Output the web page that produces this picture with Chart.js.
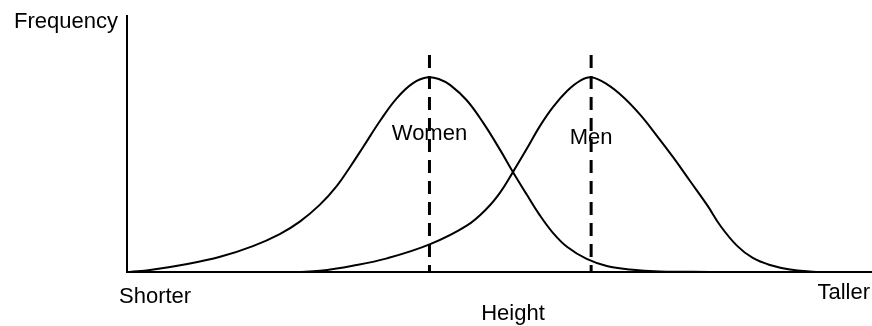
<!DOCTYPE html>
<html>
<head>
<meta charset="utf-8">
<script src="https://cdn.jsdelivr.net/npm/chart.js@4/dist/chart.umd.min.js"></script>
<style>
  html, body { margin: 0; padding: 0; background: #fff; }
  #wrap { width: 872px; height: 326px; }
</style>
</head>
<body>
<div id="wrap"><canvas id="height-chart"></canvas></div>
<script>
// height (arbitrary units, shorter -> taller) and frequency
const womenHeight = [0.4, 3.1, 8.1, 12.5, 16.9, 20.5, 23.2, 25.9, 28.2, 29.9, 31.7, 34.0, 36.2, 38.4, 40.4, 42.0, 43.4, 45.6, 47.8, 50.1, 51.8, 53.7, 55.4, 57.2, 59.1, 61.7, 64.4, 67.5, 71.5, 78.3];
const womenFreq   = [0, 1.0, 4.1, 7.8, 13.3, 19.5, 25.9, 34.6, 44.4, 53.7, 64.2, 77.8, 89.2, 97.0, 100, 98.9, 96.0, 88.2, 76.7, 62.6, 51.4, 39.5, 29.2, 20.0, 12.8, 6.7, 3.1, 1.3, 0.3, 0];

const menHeight = [22.8, 25.9, 30.3, 34.9, 40.7, 45.6, 48.3, 50.1, 51.8, 53.7, 55.4, 57.2, 59.1, 60.8, 62.3, 64.4, 66.6, 68.9, 71.1, 73.3, 75.6, 77.9, 79.6, 81.9, 84.0, 86.3, 89.0, 92.6];
const menFreq   = [0, 0.6, 3.2, 7.0, 14.3, 23.8, 32.6, 40.9, 51.3, 63.5, 74.8, 84.8, 93.1, 98.2, 100, 96.5, 89.9, 80.7, 70.1, 59.0, 46.6, 34.2, 24.0, 13.4, 7.2, 3.6, 1.3, 0];

const womenMean = 40.6;
const menMean = 62.3;
const meanTop = 111.5;

const xLabels = ["Shorter", "Taller"];
const xTitle = "Height";
const yTitle = "Frequency";

const toPoints = (xs, ys) => xs.map((x, i) => ({ x: x, y: ys[i] }));

const FONT = '22px "Liberation Sans", Arial, sans-serif';

const textPlugin = {
  id: 'texts',
  afterDraw(chart) {
    const { ctx, chartArea, scales } = chart;
    ctx.save();
    // axes
    ctx.strokeStyle = '#000';
    ctx.lineWidth = 2;
    ctx.beginPath();
    ctx.moveTo(chartArea.left, chartArea.top);
    ctx.lineTo(chartArea.left, chartArea.bottom);
    ctx.lineTo(chartArea.right, chartArea.bottom);
    ctx.stroke();

    ctx.fillStyle = '#000';
    ctx.font = FONT;
    ctx.textBaseline = 'middle';
    ctx.textAlign = 'right';
    ctx.fillText(yTitle, chartArea.left - 9, 22);
    ctx.textAlign = 'left';
    ctx.fillText(xLabels[0], 119, 297);
    ctx.textAlign = 'right';
    ctx.fillText(xLabels[1], 870, 293);
    ctx.textAlign = 'center';
    ctx.fillText(xTitle, 513, 314);

    ctx.fillText("Women", scales.x.getPixelForValue(womenMean), scales.y.getPixelForValue(71));
    ctx.fillText("Men", scales.x.getPixelForValue(menMean), scales.y.getPixelForValue(69));
    ctx.restore();
  }
};

const curve = (label, data) => ({
  label: label,
  data: data,
  borderColor: '#000',
  borderWidth: 2,
  pointRadius: 0,
  fill: false,
  tension: 0.4,
  clip: false,
});

const meanLine = (label, x) => ({
  label: label,
  data: [{ x: x, y: meanTop }, { x: x, y: 0 }],
  borderColor: '#000',
  borderWidth: 3,
  borderDash: [13, 8],
  pointRadius: 0,
  fill: false,
  clip: false,
});

new Chart(document.getElementById('height-chart'), {
  type: 'line',
  data: {
    datasets: [
      curve('Women', toPoints(womenHeight, womenFreq)),
      curve('Men', toPoints(menHeight, menFreq)),
      meanLine('Women mean', womenMean),
      meanLine('Men mean', menMean),
    ],
  },
  options: {
    responsive: true,
    maintainAspectRatio: false,
    animation: false,
    events: [],
    layout: { padding: { left: 127, right: 0, top: 15, bottom: 54 } },
    plugins: { legend: { display: false }, tooltip: { enabled: false } },
    scales: {
      x: { type: 'linear', min: 0, max: 100, display: false },
      y: { type: 'linear', min: 0, max: 132, display: false },
    },
  },
  plugins: [textPlugin],
});
</script>
</body>
</html>
